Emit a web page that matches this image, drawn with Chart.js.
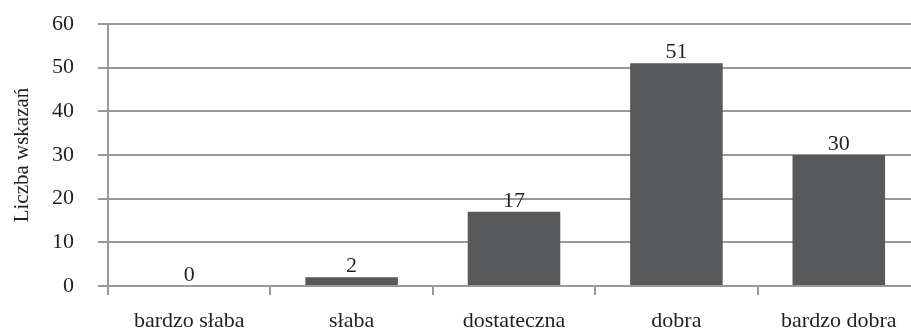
<!DOCTYPE html>
<html>
<head>
<meta charset="utf-8">
<script src="https://cdn.jsdelivr.net/npm/chart.js@4/dist/chart.umd.min.js"></script>
<style>
  html, body { margin: 0; padding: 0; background: #ffffff; overflow: hidden; }
  #wrap { width: 920px; height: 331px; }
</style>
</head>
<body>
<div id="wrap"><canvas id="c" width="920" height="331"></canvas></div>
<script>
// Ocena – liczba wskazań w każdej kategorii
const categories = ['bardzo słaba', 'słaba', 'dostateczna', 'dobra', 'bardzo dobra'];
const counts = [0, 2, 17, 51, 30];
const yTicks = [0, 10, 20, 30, 40, 50, 60];
const yTitle = 'Liczba wskazań';

const FONT = '"Liberation Serif", "Times New Roman", serif';
const TEXT = '#231f20';
const GRID = '#999999';
const BAR = '#58595b';

// draws each bar's value just above its top
const valueLabels = {
  id: 'valueLabels',
  afterDatasetsDraw(chart) {
    const ctx = chart.ctx;
    const meta = chart.getDatasetMeta(0);
    ctx.save();
    ctx.font = '22px ' + FONT;
    ctx.fillStyle = TEXT;
    ctx.textAlign = 'center';
    ctx.textBaseline = 'alphabetic';
    meta.data.forEach((bar, i) => {
      ctx.fillText(String(chart.data.datasets[0].data[i]), bar.x, bar.y - 5);
    });
    ctx.restore();
  }
};

new Chart(document.getElementById('c'), {
  type: 'bar',
  data: {
    labels: categories,
    datasets: [{
      data: counts,
      backgroundColor: BAR,
      borderWidth: 0,
      categoryPercentage: 1.0,
      barPercentage: 0.57
    }]
  },
  options: {
    responsive: false,
    animation: false,
    layout: { padding: { top: 24, right: 0, left: 0, bottom: 0 } },
    plugins: {
      legend: { display: false },
      tooltip: { enabled: false }
    },
    scales: {
      x: {
        offset: true,
        grid: {
          offset: true,
          drawOnChartArea: false,
          drawTicks: true,
          tickLength: 9,
          color: GRID,
          lineWidth: 2
        },
        border: { display: true, color: GRID, width: 2 },
        ticks: {
          color: TEXT,
          font: { family: FONT, size: 22 },
          padding: 13,
          maxRotation: 0,
          autoSkip: false
        },
        afterFit(scale) {
          scale.height = 45;
          scale.paddingLeft = 0;
          scale.paddingRight = 0;
        }
      },
      y: {
        min: 0,
        max: 60,
        afterBuildTicks(scale) { scale.ticks = yTicks.map(v => ({ value: v })); },
        grid: {
          color: GRID,
          lineWidth: 2,
          tickLength: 10
        },
        border: { display: true, color: GRID, width: 2 },
        ticks: {
          color: TEXT,
          font: { family: FONT, size: 22 },
          padding: 24
        },
        title: {
          display: true,
          text: yTitle,
          color: TEXT,
          font: { family: FONT, size: 21 },
          padding: { top: 10, bottom: 0 }
        },
        afterFit(scale) {
          scale.width = 108;
          scale.paddingTop = 0;
          scale.paddingBottom = 0;
        }
      }
    }
  },
  plugins: [valueLabels]
});
</script>
</body>
</html>
